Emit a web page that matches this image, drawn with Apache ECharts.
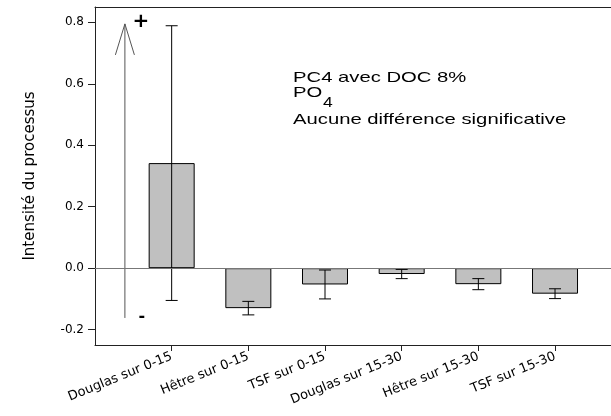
<!DOCTYPE html>
<html>
<head>
<meta charset="utf-8">
<script src="https://cdn.jsdelivr.net/npm/echarts@6/dist/echarts.min.js"></script>
<style>
  html, body { margin: 0; padding: 0; background: #fff; }
  #chart { width: 611px; height: 416px; }
</style>
</head>
<body>
<div id="chart"></div>
<script>
// data
const categories = ['Douglas sur 0-15', 'Hêtre sur 0-15', 'TSF sur 0-15',
  'Douglas sur 15-30', 'Hêtre sur 15-30', 'TSF sur 15-30'];
const slots = [1, 2, 3, 4, 5, 6];
const means = [0.342, -0.130, -0.053, -0.019, -0.052, -0.083];
const errors = [0.447, 0.022, 0.047, 0.015, 0.018, 0.016];
const yTicks = [-0.2, 0.0, 0.2, 0.4, 0.6, 0.8];
// arrow annotation: [x, from, to]
const arrowSpan = [0.39, -0.162, 0.795];

const chart = echarts.init(document.getElementById('chart'), null, { renderer: 'canvas' });

const axisFont = { fontFamily: 'DejaVu Sans', fontSize: 12, color: '#000' };

chart.setOption({
  animation: false,
  backgroundColor: '#fff',
  grid: { left: 95, top: 7, right: 0, bottom: 71 },
  xAxis: [{
    type: 'value',
    min: 0,
    max: 6.73,
    splitLine: { show: false },
    axisLine: { show: true, onZero: false, lineStyle: { color: '#222', width: 1 } },
    axisTick: { show: true, customValues: slots, length: 6, lineStyle: { color: '#222' } },
    axisLabel: Object.assign({}, axisFont, {
      customValues: slots,
      rotate: 22,
      margin: 11,
      fontSize: 13,
      formatter: v => categories[Math.round(v) - 1] || ''
    })
  }, {
    type: 'value',
    position: 'top',
    min: 0,
    max: 6.73,
    splitLine: { show: false },
    axisLine: { show: true, onZero: false, lineStyle: { color: '#222', width: 1 } },
    axisTick: { show: false },
    axisLabel: { show: false }
  }],
  yAxis: {
    type: 'value',
    min: -0.25,
    max: 0.85,
    name: 'Intensité du processus',
    nameLocation: 'middle',
    nameRotate: 90,
    nameGap: 57,
    nameTextStyle: { fontFamily: 'DejaVu Sans', fontSize: 15, color: '#000' },
    splitLine: { show: false },
    axisLine: { show: true, onZero: false, lineStyle: { color: '#222', width: 1 } },
    axisTick: { show: true, customValues: yTicks, length: 7, lineStyle: { color: '#222' } },
    axisLabel: Object.assign({}, axisFont, {
      customValues: yTicks,
      margin: 11,
      formatter: v => v.toFixed(1)
    })
  },
  series: [{
    type: 'bar',
    data: slots.map((x, i) => [x, means[i]]),
    barWidth: 46,
    itemStyle: { color: '#c0c0c0', borderColor: '#000', borderWidth: 1 },
    markLine: {
      silent: true,
      symbol: 'none',
      label: { show: false },
      lineStyle: { color: '#777', width: 1, type: 'solid' },
      data: [{ yAxis: 0 }],
      z: 10
    }
  }, {
    type: 'custom',
    data: slots.map((x, i) => [x, means[i] - errors[i], means[i] + errors[i]]),
    z: 5,
    renderItem: (params, api) => {
      const lo = api.coord([api.value(0), api.value(1)]);
      const hi = api.coord([api.value(0), api.value(2)]);
      const w = 6;
      const style = { stroke: '#000', lineWidth: 1 };
      return {
        type: 'group',
        children: [
          { type: 'line', shape: { x1: lo[0], y1: lo[1], x2: hi[0], y2: hi[1] }, style },
          { type: 'line', shape: { x1: lo[0] - w, y1: lo[1], x2: lo[0] + w, y2: lo[1] }, style },
          { type: 'line', shape: { x1: hi[0] - w, y1: hi[1], x2: hi[0] + w, y2: hi[1] }, style }
        ]
      };
    }
  }, {
    type: 'custom',
    data: [arrowSpan],
    z: 5,
    renderItem: (params, api) => {
      const a = api.coord([api.value(0), api.value(1)]);
      const b = api.coord([api.value(0), api.value(2)]);
      const style = { stroke: '#555', lineWidth: 1, fill: 'none' };
      return {
        type: 'group',
        children: [
          { type: 'line', shape: { x1: a[0], y1: a[1], x2: b[0], y2: b[1] }, style },
          { type: 'polyline', shape: { points: [[b[0] - 9.5, b[1] + 31], [b[0], b[1]], [b[0] + 9.5, b[1] + 31]] }, style },
          { type: 'text', x: b[0] + 16, y: b[1] - 2,
            style: { text: '+', fontFamily: 'DejaVu Sans', fontWeight: 'bold', fontSize: 20, fill: '#000', align: 'center', verticalAlign: 'middle' } },
          { type: 'text', x: a[0] + 17, y: a[1] - 1,
            style: { text: '-', fontFamily: 'DejaVu Sans', fontWeight: 'bold', fontSize: 16, fill: '#000', align: 'center', verticalAlign: 'middle' } }
        ]
      };
    }
  }],
  graphic: [
    { type: 'text', x: 293, y: 78, scaleX: 1.35,
      style: { text: 'PC4 avec DOC 8%', fontFamily: 'Liberation Sans', fontSize: 15, fill: '#000', verticalAlign: 'middle' } },
    { type: 'text', x: 293, y: 93, scaleX: 1.35,
      style: { text: 'PO', fontFamily: 'Liberation Sans', fontSize: 15, fill: '#000', verticalAlign: 'middle' } },
    { type: 'text', x: 323, y: 103, scaleX: 1.25,
      style: { text: '4', fontFamily: 'Liberation Sans', fontSize: 14, fill: '#000', verticalAlign: 'middle' } },
    { type: 'text', x: 293, y: 119.5, scaleX: 1.35,
      style: { text: 'Aucune différence significative', fontFamily: 'Liberation Sans', fontSize: 15, fill: '#000', verticalAlign: 'middle' } }
  ]
});
</script>
</body>
</html>
